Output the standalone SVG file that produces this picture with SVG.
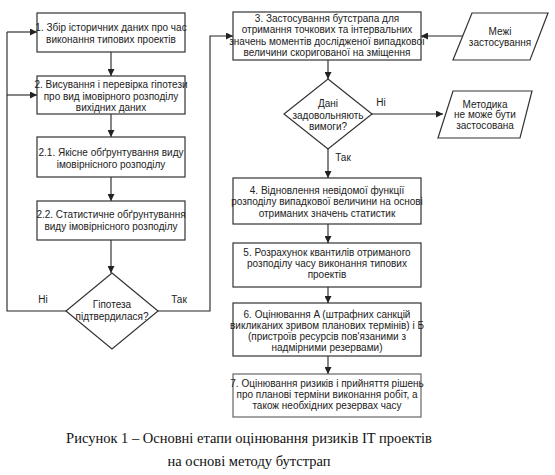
<svg xmlns="http://www.w3.org/2000/svg" width="555" height="475" viewBox="0 0 555 475">
<defs>
<marker id="arr" markerWidth="7" markerHeight="7" refX="7" refY="3.5" orient="auto" markerUnits="userSpaceOnUse">
<path d="M0,0 L7,3.5 L0,7 z" fill="#222"/>
</marker>
<style>
.b{fill:#fff;stroke:#333;stroke-width:1.2}
.t{font-family:"Liberation Sans",Arial,sans-serif;font-size:10px;fill:#222;text-anchor:middle}
.l{fill:none;stroke:#222;stroke-width:1.1}
.a{fill:none;stroke:#222;stroke-width:1.1;marker-end:url(#arr)}
.c{font-family:"Liberation Serif","Times New Roman",serif;font-size:14.5px;fill:#111;text-anchor:middle}
</style>
</defs>
<rect width="555" height="475" fill="#fff"/>
<g id="connectors">
<path class="a" d="M111,52 V76"/>
<path class="a" d="M111,114 V137"/>
<path class="a" d="M111,177 V201"/>
<path class="a" d="M111,240 V273"/>
<path class="l" d="M66,311 H7 V32"/>
<path class="a" d="M7,32 H37"/>
<path class="a" d="M7,95 H37"/>
<path class="a" d="M158,311 H210 V36 H233"/>
<path class="a" d="M463,36 H421"/>
<path class="a" d="M328,60 V79"/>
<path class="a" d="M372,114 H443"/>
<path class="a" d="M328,149 V178"/>
<path class="a" d="M328,224 V243"/>
<path class="a" d="M328,287 V303"/>
<path class="a" d="M328,356 V374"/>
<text class="t" x="43" y="303">Ні</text>
<text class="t" x="179" y="303">Так</text>
<text class="t" x="381" y="106">Ні</text>
<text class="t" x="343" y="161">Так</text>
</g>
<g id="n1"><rect class="b" x="37" y="13" width="148" height="39"/>
<text class="t" x="111" y="30.5">1. Збір історичних даних про час</text>
<text class="t" x="111" y="43">виконання типових проектів</text></g>
<g id="n2"><rect class="b" x="37" y="76" width="148" height="38"/>
<text class="t" x="111" y="87.5">2. Висування і перевірка гіпотези</text>
<text class="t" x="111" y="99.5">про вид імовірного розподілу</text>
<text class="t" x="111" y="110.5">вихідних даних</text></g>
<g id="n21"><rect class="b" x="37" y="137" width="148" height="40"/>
<text class="t" x="111" y="155.5">2.1. Якісне обґрунтування виду</text>
<text class="t" x="111" y="167.5">імовірнісного розподілу</text></g>
<g id="n22"><rect class="b" x="37" y="201" width="148" height="39"/>
<text class="t" x="111" y="217.5">2.2. Статистичне обґрунтування</text>
<text class="t" x="111" y="229.5">виду імовірнісного розподілу</text></g>
<g id="d1"><path class="b" d="M112,273 L158,311 L112,349 L66,311 Z"/>
<text class="t" x="112" y="307.5">Гіпотеза</text>
<text class="t" x="112" y="319.5">підтвердилася?</text></g>
<g id="n3"><rect class="b" x="233" y="12" width="188" height="48"/>
<text class="t" x="327" y="21.5">3. Застосування бутстрапа для</text>
<text class="t" x="327" y="33">отримання точкових та інтервальних</text>
<text class="t" x="327" y="44.5">значень моментів дослідженої випадкової</text>
<text class="t" x="327" y="56">величини скоригованої на зміщення</text></g>
<g id="p1"><path class="b" d="M472,13 H548 L530,60 H453 Z"/>
<text class="t" x="500" y="34.5">Межі</text>
<text class="t" x="500" y="46">застосування</text></g>
<g id="d2"><path class="b" d="M328,79 L372,114 L328,149 L284,114 Z"/>
<text class="t" x="328" y="106.5">Дані</text>
<text class="t" x="328" y="118.5">задовольняють</text>
<text class="t" x="328" y="130">вимоги?</text></g>
<g id="p2"><path class="b" d="M453,91 H532 L520,138 H438 Z"/>
<text class="t" x="485" y="107.5">Методика</text>
<text class="t" x="485" y="118">не може бути</text>
<text class="t" x="485" y="128.5">застосована</text></g>
<g id="n4"><rect class="b" x="233" y="178" width="188" height="46"/>
<text class="t" x="327" y="193.5">4. Відновлення невідомої функції</text>
<text class="t" x="327" y="205">розподілу випадкової величини на основі</text>
<text class="t" x="327" y="216.5">отриманих значень статистик</text></g>
<g id="n5"><rect class="b" x="233" y="243" width="188" height="44"/>
<text class="t" x="327" y="255.5">5. Розрахунок квантилів отриманого</text>
<text class="t" x="327" y="266.5">розподілу часу виконання типових</text>
<text class="t" x="327" y="277.5">проектів</text></g>
<g id="n6"><rect class="b" x="233" y="303" width="188" height="53"/>
<text class="t" x="327" y="317.5">6. Оцінювання A (штрафних санкцій</text>
<text class="t" x="327" y="328.5">викликаних зривом планових термінів) і Б</text>
<text class="t" x="327" y="339.5">(пристроїв ресурсів пов'язаними з</text>
<text class="t" x="327" y="350.5">надмірними резервами)</text></g>
<g id="n7"><rect class="b" x="233" y="374" width="188" height="43" style="stroke:#666"/>
<text class="t" x="327" y="386.5">7. Оцінювання ризиків і прийняття рішень</text>
<text class="t" x="327" y="397.5">про планові терміни виконання робіт, а</text>
<text class="t" x="327" y="408.5">також необхідних резервах часу</text></g>
<text class="c" x="249" y="443">Рисунок 1 – Основні етапи оцінювання ризиків IT проектів</text>
<text class="c" x="249" y="466">на основі методу бутстрап</text>
</svg>
